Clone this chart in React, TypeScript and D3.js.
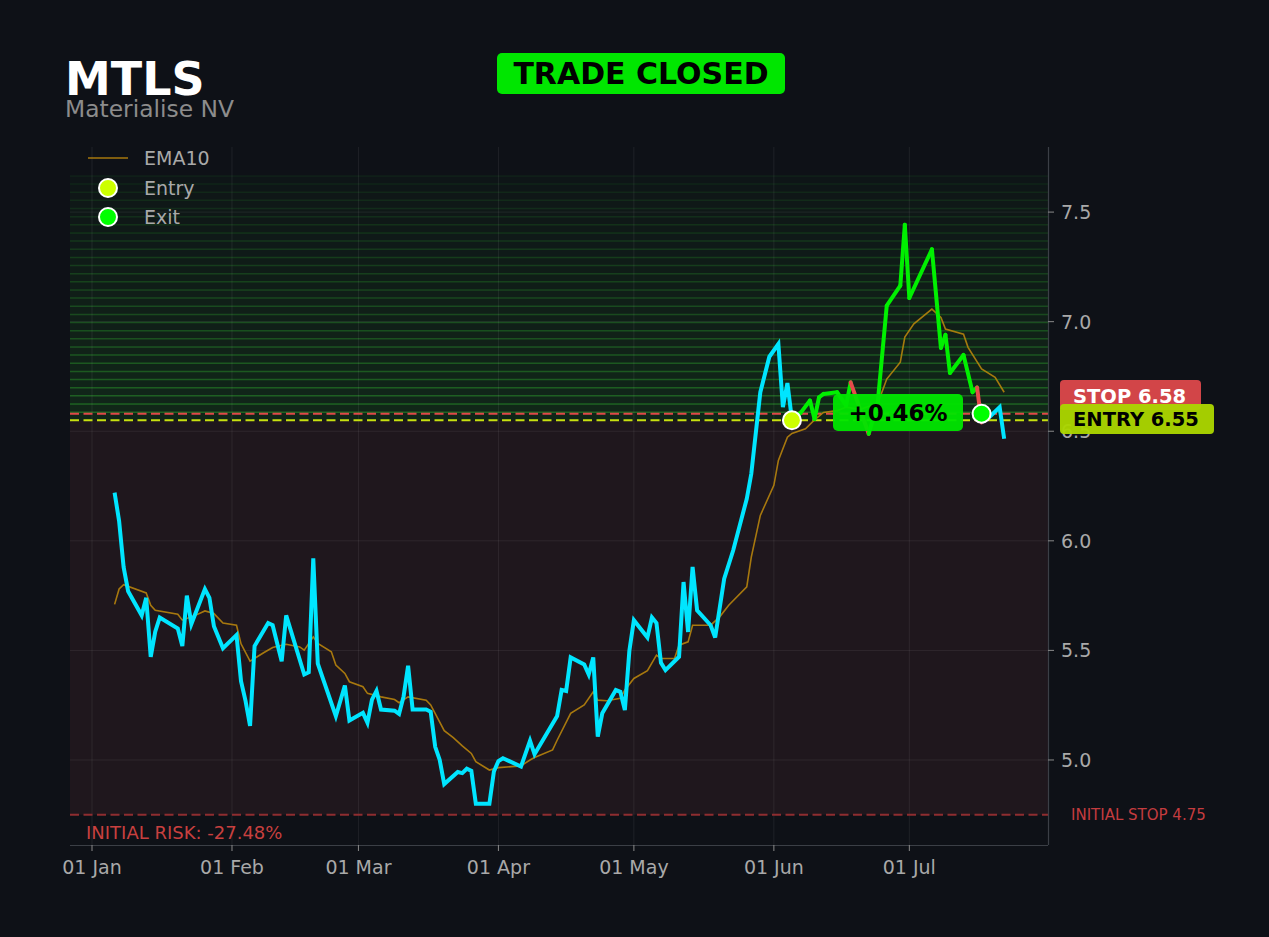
import React from 'react';
import * as d3 from 'd3';

// ---- data ----
const ticker = 'MTLS';
const companyName = 'Materialise NV';

const priceDates = [
  '2025-01-06', '2025-01-07', '2025-01-08', '2025-01-09', '2025-01-12', '2025-01-13', '2025-01-14',
  '2025-01-15', '2025-01-16', '2025-01-20', '2025-01-21', '2025-01-22', '2025-01-23', '2025-01-26',
  '2025-01-27', '2025-01-28', '2025-01-30', '2025-02-02', '2025-02-03', '2025-02-04', '2025-02-05',
  '2025-02-06', '2025-02-09', '2025-02-10', '2025-02-12', '2025-02-13', '2025-02-17', '2025-02-18',
  '2025-02-19', '2025-02-20', '2025-02-24', '2025-02-26', '2025-02-27', '2025-03-02', '2025-03-03',
  '2025-03-04', '2025-03-05', '2025-03-06', '2025-03-09', '2025-03-10', '2025-03-11', '2025-03-12',
  '2025-03-13', '2025-03-16', '2025-03-17', '2025-03-18', '2025-03-19', '2025-03-20', '2025-03-23',
  '2025-03-24', '2025-03-25', '2025-03-26', '2025-03-27', '2025-03-30', '2025-03-31', '2025-04-01',
  '2025-04-02', '2025-04-06', '2025-04-08', '2025-04-09', '2025-04-14', '2025-04-15', '2025-04-16',
  '2025-04-17', '2025-04-20', '2025-04-21', '2025-04-22', '2025-04-23', '2025-04-24', '2025-04-27',
  '2025-04-28', '2025-04-29', '2025-04-30', '2025-05-01', '2025-05-04', '2025-05-05', '2025-05-06',
  '2025-05-07', '2025-05-08', '2025-05-11', '2025-05-12', '2025-05-13', '2025-05-14', '2025-05-15',
  '2025-05-18', '2025-05-19', '2025-05-21', '2025-05-23', '2025-05-26', '2025-05-27', '2025-05-29',
  '2025-05-31', '2025-06-02', '2025-06-03', '2025-06-04', '2025-06-05', '2025-06-07', '2025-06-09',
  '2025-06-10', '2025-06-11', '2025-06-12', '2025-06-15', '2025-06-17', '2025-06-18', '2025-06-22',
  '2025-06-24', '2025-06-26', '2025-06-29', '2025-06-30', '2025-07-01', '2025-07-06', '2025-07-08',
  '2025-07-09', '2025-07-10', '2025-07-13', '2025-07-15', '2025-07-16', '2025-07-17', '2025-07-19',
  '2025-07-21', '2025-07-22',
];
const priceValues = [
  6.22, 6.09, 5.88, 5.77, 5.66, 5.74, 5.47,
  5.585, 5.65, 5.6, 5.52, 5.75, 5.62, 5.78,
  5.74, 5.61, 5.51, 5.57, 5.36, 5.27, 5.155,
  5.52, 5.625, 5.615, 5.45, 5.66, 5.39, 5.4,
  5.92, 5.44, 5.2, 5.34, 5.18, 5.215, 5.17,
  5.275, 5.315, 5.23, 5.225, 5.21, 5.29, 5.43,
  5.23, 5.23, 5.22, 5.06, 5.0, 4.89, 4.945,
  4.94, 4.96, 4.95, 4.8, 4.8, 4.947, 4.995,
  5.008, 4.97, 5.088, 5.026, 5.2, 5.32, 5.315,
  5.468, 5.436, 5.39, 5.468, 5.106, 5.213, 5.319,
  5.311, 5.228, 5.498, 5.638, 5.559, 5.65, 5.625,
  5.443, 5.41, 5.471, 5.812, 5.584, 5.881, 5.683,
  5.615, 5.559, 5.827, 5.957, 6.192, 6.306, 6.678,
  6.84, 6.898, 6.61, 6.72, 6.552, 6.586, 6.64,
  6.556, 6.655, 6.67, 6.678, 6.617, 6.723, 6.488,
  6.63, 7.073, 7.164, 7.442, 7.108, 7.33, 6.88,
  6.94, 6.766, 6.848, 6.678, 6.7, 6.54, 6.57,
  6.61, 6.466,
];

const emaDates = [
  '2025-01-06', '2025-01-07', '2025-01-08', '2025-01-13', '2025-01-14', '2025-01-15', '2025-01-20',
  '2025-01-21', '2025-01-24', '2025-01-26', '2025-01-28', '2025-01-30', '2025-02-02', '2025-02-03',
  '2025-02-05', '2025-02-08', '2025-02-10', '2025-02-13', '2025-02-16', '2025-02-17', '2025-02-19',
  '2025-02-20', '2025-02-23', '2025-02-24', '2025-02-26', '2025-02-27', '2025-03-02', '2025-03-03',
  '2025-03-06', '2025-03-09', '2025-03-10', '2025-03-12', '2025-03-16', '2025-03-17', '2025-03-20',
  '2025-03-22', '2025-03-24', '2025-03-26', '2025-03-27', '2025-03-30', '2025-04-01', '2025-04-06',
  '2025-04-08', '2025-04-09', '2025-04-13', '2025-04-14', '2025-04-17', '2025-04-20', '2025-04-22',
  '2025-04-23', '2025-04-25', '2025-04-28', '2025-04-29', '2025-05-01', '2025-05-04', '2025-05-06',
  '2025-05-07', '2025-05-10', '2025-05-11', '2025-05-13', '2025-05-14', '2025-05-18', '2025-05-20',
  '2025-05-22', '2025-05-26', '2025-05-27', '2025-05-29', '2025-06-01', '2025-06-02', '2025-06-03',
  '2025-06-04', '2025-06-05', '2025-06-08', '2025-06-10', '2025-06-12', '2025-06-15', '2025-06-17',
  '2025-06-20', '2025-06-24', '2025-06-26', '2025-06-29', '2025-06-30', '2025-07-02', '2025-07-06',
  '2025-07-08', '2025-07-09', '2025-07-13', '2025-07-14', '2025-07-17', '2025-07-20', '2025-07-22',
];
const emaValues = [
  5.71, 5.78, 5.8, 5.762, 5.706, 5.683, 5.665,
  5.638, 5.661, 5.68, 5.668, 5.625, 5.615, 5.53,
  5.451, 5.489, 5.513, 5.528, 5.516, 5.501, 5.562,
  5.532, 5.494, 5.433, 5.395, 5.357, 5.334, 5.304,
  5.288, 5.276, 5.261, 5.288, 5.273, 5.251, 5.134,
  5.102, 5.064, 5.03, 4.992, 4.954, 4.965, 4.973,
  5.0, 5.011, 5.046, 5.09, 5.213, 5.251, 5.311,
  5.273, 5.27, 5.281, 5.319, 5.372, 5.407, 5.478,
  5.463, 5.463, 5.524, 5.539, 5.615, 5.615, 5.653,
  5.706, 5.79, 5.926, 6.116, 6.253, 6.367, 6.42,
  6.473, 6.49, 6.511, 6.552, 6.586, 6.594, 6.61,
  6.6, 6.626, 6.738, 6.815, 6.93, 6.99, 7.057,
  7.019, 6.966, 6.943, 6.883, 6.784, 6.746, 6.678,
];

const entryDate = '2025-06-05';
const entryPrice = 6.55;
const exitDate = '2025-07-17';
const exitPrice = 6.58;
const stopPrice = 6.58;
const initialStop = 4.75;
const profitZoneTop = 7.665;
const stopHistoryDates = ['2025-06-05', '2025-06-16'];
const stopHistoryValues = [4.75, 6.58];

const yTicks = [5.0, 5.5, 6.0, 6.5, 7.0, 7.5];
const xTickDates = ['2025-01-01', '2025-02-01', '2025-03-01', '2025-04-01', '2025-05-01', '2025-06-01', '2025-07-01'];
const xDomainDates = ['2024-12-27 03:00', '2025-07-31 17:00'];
const yDomain = [4.612, 7.797];

const tradeResult = '+0.46%';
const initialRisk = 'INITIAL RISK: -27.48%';

// ---- layout ----
const W = 1269;
const H = 937;
const plot = { left: 70, right: 1048, top: 147, bottom: 845 };
const FONT = '"DejaVu Sans", "Liberation Sans", sans-serif';

const BG = '#0e1117';
const CYAN = '#00e5ff';
const GREEN = '#00f000';
const RED = '#e64b4b';
const EMA_COLOR = '#c08a0c';
const TEXT_GRAY = '#a9a9a9';
const PRICE_WIDTH = 4;

const parseDay = d3.timeParse('%Y-%m-%d');
const parseStamp = d3.timeParse('%Y-%m-%d %H:%M');

type Pt = { date: Date; value: number };

const App: React.FC = () => {
  const x = d3.scaleTime()
    .domain(xDomainDates.map((d) => parseStamp(d) as Date))
    .range([plot.left, plot.right]);
  const y = d3.scaleLinear().domain(yDomain).range([plot.bottom, plot.top]);

  const prices: Pt[] = priceDates.map((d, i) => ({ date: parseDay(d) as Date, value: priceValues[i] }));
  const ema: Pt[] = emaDates.map((d, i) => ({ date: parseDay(d) as Date, value: emaValues[i] }));

  const entryD = parseDay(entryDate) as Date;
  const exitD = parseDay(exitDate) as Date;

  const line = d3.line<Pt>().x((d) => x(d.date)).y((d) => y(d.value));

  const stopAt = (date: Date) => {
    let s = stopHistoryValues[0];
    stopHistoryDates.forEach((d, i) => {
      if (date >= (parseDay(d) as Date)) s = stopHistoryValues[i];
    });
    return s;
  };

  const before = prices.filter((p) => p.date <= entryD);
  const after = prices.filter((p) => p.date >= exitD);
  const inTrade = prices.filter((p) => p.date >= entryD && p.date <= exitD);
  const tradeSegments = d3.pairs(inTrade).map(([a, b]) => ({
    pts: [a, b],
    color: b.value < stopAt(b.date) ? RED : GREEN,
  }));

  // profit zone: 30 bands from the entry up to the zone top
  const nBands = 30;
  const bandStep = (profitZoneTop - entryPrice) / nBands;
  const bands = d3.range(nBands).map((i) => ({
    lo: entryPrice + i * bandStep,
    hi: entryPrice + (i + 1) * bandStep,
    t: i / (nBands - 1),
  }));

  const fmtTick = d3.timeFormat('%d %b');

  return (
    <svg
      width={W}
      height={H}
      style={{ position: 'absolute', left: 0, top: 0, display: 'block' }}
      fontFamily={FONT}
    >
      <rect x={0} y={0} width={W} height={H} fill={BG} />

      {/* risk zone */}
      <rect
        x={plot.left}
        y={y(entryPrice)}
        width={plot.right - plot.left}
        height={y(initialStop) - y(entryPrice)}
        fill="#1f171d"
      />

      {/* profit zone bands */}
      {bands.map((b, i) => (
        <g key={`band-${i}`}>
          <rect
            x={plot.left}
            y={y(b.hi)}
            width={plot.right - plot.left}
            height={y(b.lo) - y(b.hi)}
            fill="#228b22"
            fillOpacity={0.18 * (1 - b.t) + 0.04 * b.t}
          />
          <line
            x1={plot.left}
            x2={plot.right}
            y1={y(b.hi)}
            y2={y(b.hi)}
            stroke="#30a830"
            strokeOpacity={0.5 * (1 - b.t) + 0.1 * b.t}
            strokeWidth={1.5}
          />
        </g>
      ))}

      {/* grid */}
      {xTickDates.map((d) => (
        <line
          key={`gx-${d}`}
          x1={x(parseDay(d) as Date)}
          x2={x(parseDay(d) as Date)}
          y1={plot.top}
          y2={plot.bottom}
          stroke="#ffffff"
          strokeOpacity={0.07}
          strokeWidth={1}
        />
      ))}
      {yTicks.map((v) => (
        <line
          key={`gy-${v}`}
          x1={plot.left}
          x2={plot.right}
          y1={y(v)}
          y2={y(v)}
          stroke="#ffffff"
          strokeOpacity={0.07}
          strokeWidth={1}
        />
      ))}

      {/* level lines */}
      <line x1={plot.left} x2={plot.right} y1={y(initialStop)} y2={y(initialStop)}
        stroke="#8e2d30" strokeWidth={2} strokeDasharray="9,4.5" />
      <line x1={plot.left} x2={plot.right} y1={y(stopPrice)} y2={y(stopPrice)}
        stroke="#e04848" strokeWidth={2} strokeDasharray="9,4.5" />
      <line x1={plot.left} x2={plot.right} y1={y(entryPrice)} y2={y(entryPrice)}
        stroke="#c8e010" strokeWidth={2} strokeDasharray="9,4.5" />

      {/* EMA10 */}
      <path d={line(ema) ?? ''} fill="none" stroke={EMA_COLOR} strokeOpacity={0.85} strokeWidth={1.6} />

      {/* price */}
      <path d={line(before) ?? ''} fill="none" stroke={CYAN} strokeWidth={PRICE_WIDTH} />
      <path d={line(after) ?? ''} fill="none" stroke={CYAN} strokeWidth={PRICE_WIDTH} />
      {tradeSegments.map((s, i) => (
        <path key={`seg-${i}`} d={line(s.pts) ?? ''} fill="none" stroke={s.color}
          strokeWidth={PRICE_WIDTH} strokeLinecap="round" />
      ))}

      {/* entry / exit markers */}
      <circle cx={x(entryD)} cy={y(entryPrice)} r={9} fill="#ccff00" stroke="#ffffff" strokeWidth={2} />
      <circle cx={x(exitD)} cy={y(exitPrice)} r={9} fill="#00ff00" stroke="#ffffff" strokeWidth={2} />

      {/* result badge */}
      <rect x={833} y={394} width={130} height={37} rx={5} fill="#00e600" fillOpacity={0.95} />
      <text x={898} y={421} textAnchor="middle" fontSize={23} fontWeight="bold" fill="#000000">
        {tradeResult}
      </text>

      {/* spines */}
      <line x1={plot.right + 0.5} x2={plot.right + 0.5} y1={plot.top} y2={plot.bottom} stroke="#3b3f46" strokeWidth={1.2} />
      <line x1={plot.left} x2={plot.right} y1={plot.bottom + 0.5} y2={plot.bottom + 0.5} stroke="#3b3f46" strokeWidth={1.2} />

      {/* y axis (right) */}
      {yTicks.map((v) => (
        <g key={`yt-${v}`}>
          <line x1={plot.right} x2={plot.right + 6} y1={y(v)} y2={y(v)} stroke="#8a8a8a" strokeWidth={1} />
          <text x={plot.right + 13} y={y(v) + 7} fontSize={19} fill={TEXT_GRAY}>
            {v.toFixed(1)}
          </text>
        </g>
      ))}

      {/* x axis */}
      {xTickDates.map((d) => {
        const xx = x(parseDay(d) as Date);
        return (
          <g key={`xt-${d}`}>
            <line x1={xx} x2={xx} y1={plot.bottom} y2={plot.bottom + 6} stroke="#8a8a8a" strokeWidth={1} />
            <text x={xx} y={plot.bottom + 29} textAnchor="middle" fontSize={19} fill={TEXT_GRAY}>
              {fmtTick(parseDay(d) as Date)}
            </text>
          </g>
        );
      })}

      {/* right-side level labels */}
      <rect x={1060} y={380} width={141} height={30} rx={4} fill="#d24548" />
      <text x={1073} y={403} fontSize={19.5} fontWeight="bold" fill="#ffffff">
        {`STOP ${stopPrice.toFixed(2)}`}
      </text>
      <rect x={1060} y={404} width={154} height={30} rx={4} fill="#abd500" fillOpacity={0.96} />
      <text x={1073} y={426} fontSize={19.5} fontWeight="bold" fill="#000000">
        {`ENTRY ${entryPrice.toFixed(2)}`}
      </text>
      <text x={1071} y={820} fontSize={15} fill="#c43c3f">
        {`INITIAL STOP ${initialStop.toFixed(2)}`}
      </text>
      <text x={86} y={839} fontSize={18} fill="#c8403f">
        {initialRisk}
      </text>

      {/* legend */}
      <line x1={88} x2={128} y1={158} y2={158} stroke={EMA_COLOR} strokeOpacity={0.85} strokeWidth={1.6} />
      <text x={144} y={165} fontSize={19} fill={TEXT_GRAY}>EMA10</text>
      <circle cx={108} cy={188} r={9} fill="#ccff00" stroke="#ffffff" strokeWidth={2} />
      <text x={144} y={195} fontSize={19} fill={TEXT_GRAY}>Entry</text>
      <circle cx={108} cy={217} r={9} fill="#00ff00" stroke="#ffffff" strokeWidth={2} />
      <text x={144} y={224} fontSize={19} fill={TEXT_GRAY}>Exit</text>

      {/* titles */}
      <text x={65} y={95} fontSize={46} fontWeight="bold" fill="#ffffff">{ticker}</text>
      <text x={65} y={117} fontSize={23.5} fill="#8c8c8c" textLength={169} lengthAdjust="spacingAndGlyphs">
        {companyName}
      </text>
      <rect x={497} y={53} width={288} height={41} rx={5} fill="#00e600" />
      <text x={641} y={84} textAnchor="middle" fontSize={30} fontWeight="bold" fill="#000000">
        TRADE CLOSED
      </text>
    </svg>
  );
};

export default App;
